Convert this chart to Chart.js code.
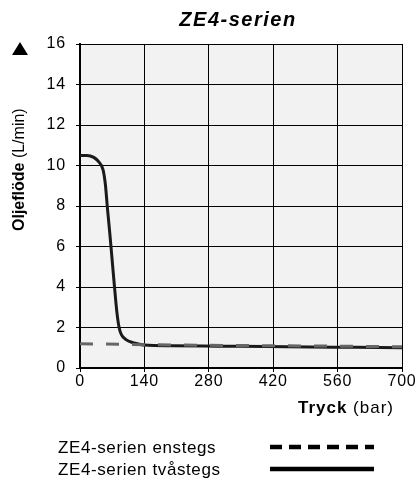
<!DOCTYPE html>
<html>
<head>
<meta charset="utf-8">
<script src="https://cdn.jsdelivr.net/npm/chart.js@4.4.0/dist/chart.umd.min.js"></script>
<style>
    html, body { margin: 0; padding: 0; background: #fff; }
    #wrap { position: relative; width: 418px; height: 479px; }
</style>
</head>
<body>
<div id="wrap"><canvas id="oilChart" width="418" height="479"></canvas></div>
<script>
// Data
const pressureTwoStage = [0, 15, 30, 40, 50, 55, 60, 65, 70, 75, 80, 85, 90, 100, 115, 130, 140, 200, 300, 400, 500, 600, 700];
const flowTwoStage = [10.5, 10.5, 10.4, 10.2, 9.8, 9.1, 7.8, 6.6, 5.3, 4.0, 2.8, 2.0, 1.65, 1.4, 1.25, 1.17, 1.13, 1.1, 1.08, 1.06, 1.04, 1.02, 1.0];
const pressureOneStage = [0, 140, 280, 420, 560, 700];
const flowOneStage = [1.2, 1.15, 1.12, 1.1, 1.08, 1.05];
const xTicks = [0, 140, 280, 420, 560, 700];
const yTicks = [0, 2, 4, 6, 8, 10, 12, 14, 16];

const chartTitle = 'ZE4-serien';
const legendLabels = ['ZE4-serien enstegs', 'ZE4-serien tvåstegs'];

const FONT = '"Liberation Sans", Arial, Helvetica, sans-serif';

const toPoints = (xs, ys) => xs.map((x, i) => ({ x: x, y: ys[i] }));

// plot background, and slightly wider lettering like the original
const plotFrame = {
    id: 'plotFrame',
    beforeDraw(chart) {
        const { ctx, chartArea: a } = chart;
        ctx.letterSpacing = '0.8px';
        ctx.save();
        ctx.fillStyle = '#f2f2f2';
        ctx.fillRect(a.left, a.top, a.right - a.left, a.bottom - a.top);
        ctx.restore();
    }
};

// title, axis titles and legend drawn as text
const labelsPlugin = {
    id: 'labelsPlugin',
    afterDraw(chart) {
        const { ctx } = chart;
        ctx.save();
        ctx.fillStyle = '#000';
        ctx.textBaseline = 'middle';

        // title
        ctx.letterSpacing = '1.5px';
        ctx.font = 'italic bold 20px ' + FONT;
        ctx.textAlign = 'center';
        ctx.fillText(chartTitle, 238, 20);

        // y axis title (rotated)
        ctx.save();
        ctx.letterSpacing = '0px';
        ctx.translate(20, 231);
        ctx.rotate(-Math.PI / 2);
        ctx.textAlign = 'left';
        ctx.font = 'bold 16px ' + FONT;
        const boldPart = 'Oljeflöde';
        ctx.fillText(boldPart, 0, 0);
        const w1 = ctx.measureText(boldPart + ' ').width;
        ctx.font = '16px ' + FONT;
        ctx.fillText('(L/min)', w1, 0);
        ctx.restore();

        // arrow on top of y title
        ctx.beginPath();
        ctx.moveTo(20, 42);
        ctx.lineTo(28, 55);
        ctx.lineTo(12, 55);
        ctx.closePath();
        ctx.fill();

        // x axis title, right aligned
        ctx.letterSpacing = '1px';
        ctx.textBaseline = 'alphabetic';
        ctx.textAlign = 'right';
        ctx.font = '17px ' + FONT;
        const unit = '(bar)';
        ctx.fillText(unit, 394, 413);
        const wu = ctx.measureText(' ' + unit).width;
        ctx.font = 'bold 17px ' + FONT;
        ctx.fillText('Tryck', 394 - wu, 413);

        // legend
        ctx.letterSpacing = '0.6px';
        ctx.textAlign = 'left';
        ctx.font = '17px ' + FONT;
        ctx.fillText(legendLabels[0], 58, 453);
        ctx.fillText(legendLabels[1], 58, 475);

        ctx.strokeStyle = '#000';
        ctx.lineWidth = 4.5;
        ctx.setLineDash([12, 7]);
        ctx.beginPath();
        ctx.moveTo(270, 447);
        ctx.lineTo(374, 447);
        ctx.stroke();

        ctx.setLineDash([]);
        ctx.beginPath();
        ctx.moveTo(270, 469);
        ctx.lineTo(374, 469);
        ctx.stroke();

        ctx.restore();
    }
};

const ctx = document.getElementById('oilChart');

new Chart(ctx, {
    type: 'line',
    data: {
        datasets: [
            {
                label: legendLabels[0],
                data: toPoints(pressureOneStage, flowOneStage),
                borderColor: '#666666',
                borderWidth: 3,
                borderDash: [13, 13],
                pointRadius: 0,
                tension: 0,
                fill: false
            },
            {
                label: legendLabels[1],
                data: toPoints(pressureTwoStage, flowTwoStage),
                borderColor: '#1a1a1a',
                borderWidth: 3,
                pointRadius: 0,
                cubicInterpolationMode: 'monotone',
                fill: false
            }
        ]
    },
    options: {
        responsive: false,
        animation: false,
        layout: {
            padding: { top: 44, right: 16, left: 0, bottom: 0 }
        },
        plugins: {
            legend: { display: false },
            title: { display: false },
            tooltip: { enabled: false }
        },
        scales: {
            x: {
                type: 'linear',
                min: 0,
                max: 700,
                afterFit: s => { s.height = 111; },
                afterBuildTicks: s => { s.ticks = xTicks.map(v => ({ value: v })); },
                ticks: {
                    color: '#000',
                    font: { family: FONT, size: 16 },
                    padding: 0,
                    maxRotation: 0
                },
                grid: { color: '#000', lineWidth: 1, tickLength: 4 },
                border: { color: '#000', width: 2 }
            },
            y: {
                min: 0,
                max: 16,
                afterFit: s => { s.width = 80; },
                afterBuildTicks: s => { s.ticks = yTicks.map(v => ({ value: v })); },
                ticks: {
                    color: '#000',
                    font: { family: FONT, size: 16 },
                    padding: 10
                },
                grid: { color: '#000', lineWidth: 1, tickLength: 4 },
                border: { color: '#000', width: 2 }
            }
        }
    },
    plugins: [plotFrame, labelsPlugin]
});
</script>
</body>
</html>
